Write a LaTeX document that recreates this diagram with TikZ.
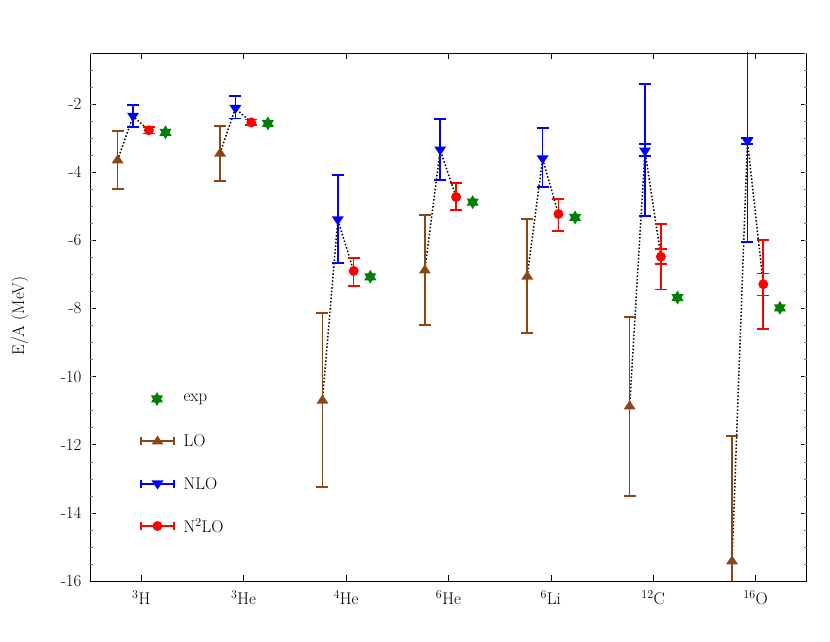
\documentclass[tikz,border=0pt]{standalone}
\usetikzlibrary{arrows.meta, positioning}
\usepackage[dvipsnames]{xcolor}
\definecolor{lobrown}{RGB}{140,70,20}
\definecolor{expgreen}{RGB}{0,128,0}
\tikzset{
  lo/.style={lobrown, line width=1.6bp},
  nlo/.style={blue, line width=1.6bp},
  nnlo/.style={red, line width=1.6bp},
  guide/.style={black, dotted, line width=1.5bp},
  lbl/.style={font=\fontsize{17}{19}\selectfont},
}
% error bar: x, lower, upper, style
\newcommand\errbar[4]{\draw[#4] (#1,#2) -- (#1,#3) (#1,#2) ++(-6bp,0) -- ++(12bp,0) (#1,#3) ++(-6bp,0) -- ++(12bp,0);}
\newcommand\upmark[2]{\fill[#2] (#1) ++(0,5.5bp) -- ++(-6bp,-9bp) -- ++(12bp,0) -- cycle;}
\newcommand\downmark[2]{\fill[#2] (#1) ++(0,-5.5bp) -- ++(-6bp,9bp) -- ++(12bp,0) -- cycle;}
\newcommand\starmark[2]{\fill[#2] (#1) +(90:7bp) -- +(210:7bp) -- +(330:7bp) -- cycle;
  \fill[#2] (#1) +(270:7bp) -- +(30:7bp) -- +(150:7bp) -- cycle;}
\begin{document}
\begin{tikzpicture}
\useasboundingbox (0,0) rectangle (830bp,642bp);
% axis label
\node[lbl, rotate=90] (ylab) at (20bp,326bp) {E/A (MeV)};
\begin{scope}[x=102.4bp, y=34.07bp, xshift=90bp-0.5*102.4bp, yshift=61bp+16*34.07bp]
  % frame and ticks
  \draw[line width=0.8bp] (0.5,-16) rectangle (7.5,-0.5);
  \foreach \v in {-16,-14,...,-2} {
    \draw[line width=0.6bp] (0.5,\v) -- ++(6bp,0) (7.5,\v) -- ++(-6bp,0);
    \node[lbl, anchor=east] (t\v) at ([xshift=-5bp]0.5,\v) {\v};
  }
  \foreach \v in {-15.5,-15,...,-0.5}
    \draw[line width=0.5bp, gray] (0.5,\v) -- ++(3bp,0) (7.5,\v) -- ++(-3bp,0);
  \foreach \i/\name in {1/{${}^{3}$H},2/{${}^{3}$He},3/{${}^{4}$He},4/{${}^{6}$He},5/{${}^{6}$Li},6/{${}^{12}$C},7/{${}^{16}$O}} {
    \draw[line width=0.6bp] (\i,-16) -- ++(0,6bp) (\i,-0.5) -- ++(0,-6bp);
    \node[lbl, anchor=north] (n\i) at ([yshift=-6bp]\i,-16) {\name};
  }
  \begin{scope}
    \clip (0.5,-16) rectangle (7.5,-0.5);
    % points: index / LO (val,hi,lo) / NLO (val,hi,lo) / N2LO (val,hi,lo) / exp
    \foreach \i/\a/\ah/\al/\b/\bh/\bl/\c/\ch/\cl/\e in {
      1/-3.64/-2.79/-4.50/-2.36/-2.03/-2.67/-2.77/-2.68/-2.86/-2.83,
      2/-3.44/-2.64/-4.26/-2.13/-1.77/-2.42/-2.54/-2.46/-2.62/-2.57,
      3/-10.69/-8.13/-13.24/-5.40/-4.08/-6.67/-6.90/-6.52/-7.34/-7.07,
      4/-6.87/-5.26/-8.49/-3.35/-2.44/-4.23/-4.73/-4.32/-5.11/-4.88,
      5/-7.05/-5.38/-8.72/-3.61/-2.70/-4.44/-5.23/-4.79/-5.73/-5.33,
      6/-10.86/-8.26/-13.50/-3.38/-1.42/-5.28/-6.48/-5.52/-7.44/-7.68,
      7/-15.41/-11.74/-19.0/-3.09/1.0/-6.05/-7.29/-5.99/-8.60/-7.98} {
      \coordinate (lo\i) at (\i-0.23,\a);
      \coordinate (nlo\i) at (\i-0.08,\b);
      \coordinate (nnlo\i) at (\i+0.075,\c);
      \coordinate (exp\i) at (\i+0.237,\e);
      \draw[guide] (lo\i) -- (nlo\i) -- (nnlo\i);
      \errbar{\i-0.23}{\al}{\ah}{lo}
      \errbar{\i-0.08}{\bl}{\bh}{nlo}
      \errbar{\i+0.075}{\cl}{\ch}{nnlo}
      \upmark{lo\i}{lobrown}
      \downmark{nlo\i}{blue}
      \fill[red] (nnlo\i) circle (5bp);
      \starmark{exp\i}{expgreen}
    }
    % inner error bars
    \errbar{6-0.08}{-3.53}{-3.18}{nlo}
    \errbar{7-0.08}{-3.18}{-2.99}{nlo}
    \errbar{6+0.075}{-6.70}{-6.26}{nnlo}
    \errbar{7+0.075}{-7.62}{-6.97}{nnlo}
  \end{scope}
\end{scope}
% legend
\coordinate (kexp) at (157bp,243bp);
\starmark{kexp}{expgreen}
\node[lbl, anchor=west] (lexp) at (180bp,243bp) {exp};
\foreach \y/\s/\t [count=\k] in {201/lo/LO,158/nlo/NLO,116/nnlo/N$^2$LO} {
  \coordinate (ka\k) at (141bp,\y bp);
  \coordinate (kb\k) at (174bp,\y bp);
  \coordinate (km\k) at (157.5bp,\y bp);
  \draw[\s] (ka\k) -- (kb\k) (ka\k) ++(0,-4bp) -- ++(0,8bp) (kb\k) ++(0,-4bp) -- ++(0,8bp);
  \node[lbl, anchor=west] (l\k) at (180bp,\y bp) {\t};
}
\upmark{km1}{lobrown}
\downmark{km2}{blue}
\fill[red] (km3) circle (5bp);
\end{tikzpicture}
\end{document}
